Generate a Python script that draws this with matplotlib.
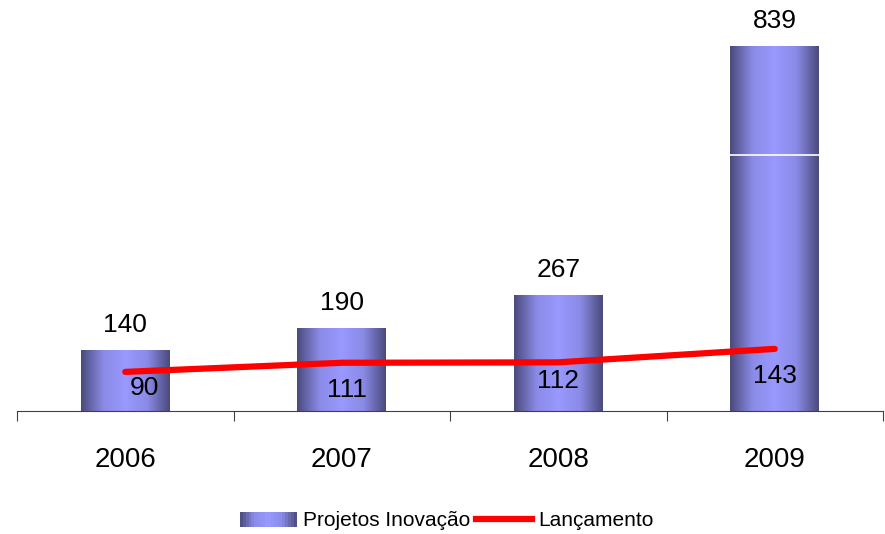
import numpy as np
import matplotlib.pyplot as plt
from matplotlib.colors import LinearSegmentedColormap
from matplotlib.patches import Rectangle
from matplotlib.legend_handler import HandlerBase
from matplotlib.lines import Line2D

plt.rcParams['font.family'] = ['Liberation Sans', 'DejaVu Sans']

years = ['2006', '2007', '2008', '2009']
projetos = [140, 190, 267, 839]
lancamento = [90, 111, 112, 143]

cmap = LinearSegmentedColormap.from_list(
    'cyl', ['#4a4a7c', '#8a8ae6', '#9999ff', '#8a8ae6', '#4a4a7c'])

fig = plt.figure(figsize=(8.85, 5.34), dpi=100)
ax = fig.add_axes([17 / 885, 123 / 534, 866 / 885, 391 / 534])
x = np.arange(len(years))
width = 0.41

bars = ax.bar(x, projetos, width, color='none', edgecolor='none', zorder=2)
grad = np.linspace(0, 1, 256).reshape(1, -1)
for b in bars:
    x0, w, h = b.get_x(), b.get_width(), b.get_height()
    ax.imshow(grad, cmap=cmap, aspect='auto', extent=(x0, x0 + w, 0, h),
              zorder=2)
    ax.annotate(str(h), (x0 + w / 2, h), xytext=(0, 13), textcoords='offset points',
                ha='center', va='baseline', fontsize=19)

# thin white line across the tall bar
b = bars[3]
ax.hlines(590, b.get_x(), b.get_x() + b.get_width(), color='white', lw=1.2, zorder=3)

ax.plot(x, lancamento, color='#ff0000', lw=4.5, solid_capstyle='round', zorder=4)
offsets = [(14, -3), (4, -11), (0, -5), (0, -11)]
for xi, v, (dx, dy) in zip(x, lancamento, offsets):
    ax.annotate(str(v), (xi, v), xytext=(dx, dy), textcoords='offset points',
                ha='center', va='top', fontsize=19, zorder=5)

ax.set_xlim(-0.5, 3.5)
ax.set_ylim(0, 900)
ax.set_yticks([])
for s in ['top', 'right', 'left']:
    ax.spines[s].set_visible(False)
ax.spines['bottom'].set_color('#404040')
ax.set_xticks(np.arange(-0.5, 4.0, 1.0))
ax.set_xticklabels([])
ax.tick_params(axis='x', length=7, color='#404040', direction='out')
for xi, yr in zip(x, years):
    ax.annotate(yr, (xi, 0), xytext=(0, -26), textcoords='offset points',
                ha='center', va='top', fontsize=20)


class GradHandler(HandlerBase):
    def create_artists(self, legend, orig, xd, yd, w, h, fontsize, trans):
        n = 20
        arts = []
        for i in range(n):
            arts.append(Rectangle((xd + w * i / n, yd), w / n + 0.3, h,
                                  color=cmap((i + 0.5) / n), transform=trans, lw=0))
        return arts


handles = [Rectangle((0, 0), 1, 1), Line2D([0], [0], color='#ff0000', lw=4.5)]
leg = fig.legend(handles, ['Projetos Inovação', 'Lançamento'],
                 handler_map={Rectangle: GradHandler()},
                 loc='center', bbox_to_anchor=(447 / 885, 1 - 521 / 534),
                 ncol=2, frameon=False, fontsize=15, handlelength=2.7,
                 handletextpad=0.3, columnspacing=0.3)

fig.savefig('out.png', dpi=100)
